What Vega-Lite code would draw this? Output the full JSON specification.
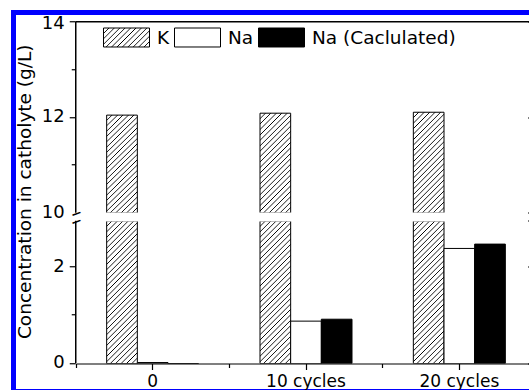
{
  "$schema": "https://vega.github.io/schema/vega-lite/v6.json",
  "autosize": {"type": "none"},
  "padding": {"left": 76, "top": 22, "right": -7, "bottom": 26.5},
  "width": 460,
  "height": 341.5,
  "background": "white",
  "data": {
    "values": [
      {"category": "0", "series": "K", "value": 12.05},
      {"category": "0", "series": "Na", "value": 0.02},
      {"category": "0", "series": "Na (Caclulated)", "value": 0},
      {"category": "10 cycles", "series": "K", "value": 12.09},
      {"category": "10 cycles", "series": "Na", "value": 0.88},
      {"category": "10 cycles", "series": "Na (Caclulated)", "value": 0.92},
      {"category": "20 cycles", "series": "K", "value": 12.11},
      {"category": "20 cycles", "series": "Na", "value": 2.39},
      {"category": "20 cycles", "series": "Na (Caclulated)", "value": 2.48}
    ]
  },
  "resolve": {"scale": {"y": "independent"}, "axis": {"x": "independent", "y": "independent"}},
  "layer": [
    {
      "transform": [{"filter": "datum.series === 'K'"}],
      "mark": {
        "type": "bar", "clip": true, "stroke": "black", "strokeWidth": 1,
        "fill": {"gradient": "linear", "x1": 0, "y1": 0, "x2": 0.3663, "y2": 1.1944, "stops": [
          {"offset": 0, "color": "#000"}, {"offset": 0.0069, "color": "#fff"}, {"offset": 0.0348, "color": "#fff"},
          {"offset": 0.0417, "color": "#000"}, {"offset": 0.0486, "color": "#fff"}, {"offset": 0.0764, "color": "#fff"},
          {"offset": 0.0833, "color": "#000"}, {"offset": 0.0902, "color": "#fff"}, {"offset": 0.1181, "color": "#fff"},
          {"offset": 0.125, "color": "#000"}, {"offset": 0.1319, "color": "#fff"}, {"offset": 0.1598, "color": "#fff"},
          {"offset": 0.1667, "color": "#000"}, {"offset": 0.1736, "color": "#fff"}, {"offset": 0.2014, "color": "#fff"},
          {"offset": 0.2083, "color": "#000"}, {"offset": 0.2152, "color": "#fff"}, {"offset": 0.2431, "color": "#fff"},
          {"offset": 0.25, "color": "#000"}, {"offset": 0.2569, "color": "#fff"}, {"offset": 0.2848, "color": "#fff"},
          {"offset": 0.2917, "color": "#000"}, {"offset": 0.2986, "color": "#fff"}, {"offset": 0.3264, "color": "#fff"},
          {"offset": 0.3333, "color": "#000"}, {"offset": 0.3402, "color": "#fff"}, {"offset": 0.3681, "color": "#fff"},
          {"offset": 0.375, "color": "#000"}, {"offset": 0.3819, "color": "#fff"}, {"offset": 0.4098, "color": "#fff"},
          {"offset": 0.4167, "color": "#000"}, {"offset": 0.4236, "color": "#fff"}, {"offset": 0.4514, "color": "#fff"},
          {"offset": 0.4583, "color": "#000"}, {"offset": 0.4652, "color": "#fff"}, {"offset": 0.4931, "color": "#fff"},
          {"offset": 0.5, "color": "#000"}, {"offset": 0.5069, "color": "#fff"}, {"offset": 0.5348, "color": "#fff"},
          {"offset": 0.5417, "color": "#000"}, {"offset": 0.5486, "color": "#fff"}, {"offset": 0.5764, "color": "#fff"},
          {"offset": 0.5833, "color": "#000"}, {"offset": 0.5902, "color": "#fff"}, {"offset": 0.6181, "color": "#fff"},
          {"offset": 0.625, "color": "#000"}, {"offset": 0.6319, "color": "#fff"}, {"offset": 0.6598, "color": "#fff"},
          {"offset": 0.6667, "color": "#000"}, {"offset": 0.6736, "color": "#fff"}, {"offset": 0.7014, "color": "#fff"},
          {"offset": 0.7083, "color": "#000"}, {"offset": 0.7152, "color": "#fff"}, {"offset": 0.7431, "color": "#fff"},
          {"offset": 0.75, "color": "#000"}, {"offset": 0.7569, "color": "#fff"}, {"offset": 0.7848, "color": "#fff"},
          {"offset": 0.7917, "color": "#000"}, {"offset": 0.7986, "color": "#fff"}, {"offset": 0.8264, "color": "#fff"},
          {"offset": 0.8333, "color": "#000"}, {"offset": 0.8402, "color": "#fff"}, {"offset": 0.8681, "color": "#fff"},
          {"offset": 0.875, "color": "#000"}, {"offset": 0.8819, "color": "#fff"}, {"offset": 0.9098, "color": "#fff"},
          {"offset": 0.9167, "color": "#000"}, {"offset": 0.9236, "color": "#fff"}, {"offset": 0.9514, "color": "#fff"},
          {"offset": 0.9583, "color": "#000"}, {"offset": 0.9652, "color": "#fff"}, {"offset": 0.9931, "color": "#fff"},
          {"offset": 1, "color": "#000"}
        ]}
      },
      "encoding": {
        "x": {
          "field": "category", "type": "nominal",
          "scale": {"domain": ["0", "10 cycles", "20 cycles"], "paddingInner": 0.4, "paddingOuter": 0.2},
          "axis": {"orient": "top", "ticks": false, "labels": false, "domain": true, "title": null, "domainColor": "#000000", "domainWidth": 1.5, "translate": -0.25, "zindex": 1}
        },
        "xOffset": {"field": "series", "type": "nominal", "scale": {"domain": ["K", "Na", "Na (Caclulated)"], "paddingInner": 0, "paddingOuter": 0}},
        "y": {
          "field": "value", "type": "quantitative", "stack": null,
          "scale": {"domain": [10, 14], "range": [191, 0], "zero": false, "nice": false},
          "axis": {
            "orient": "left", "values": [10, 11, 12, 13, 14], "translate": -0.25,
            "labelExpr": "datum.value % 2 === 0 ? datum.label : ''",
            "tickSize": {"condition": {"test": "datum.value % 2 === 0", "value": 6}, "value": 4},
            "tickOpacity": {"condition": {"test": "datum.value === 10", "value": 0}, "value": 1},
            "tickColor": "#000000", "tickWidth": 1.2,
            "labelOffset": {"condition": {"test": "datum.value === 14", "value": 2}, "value": 0},
            "labelFontSize": 18, "labelPadding": 5,
            "domain": true, "domainColor": "#000000", "domainWidth": 1.5, "zindex": 1,
            "title": "Concentration in catholyte (g/L)",
            "titleFontSize": 18.5, "titleX": -45, "titleY": 170, "titleAngle": -90,
            "titleAlign": "center", "titleBaseline": "alphabetic"
          }
        },
        "y2": {"datum": 10}
      }
    },
    {
      "transform": [{"filter": "datum.series === 'K'"}],
      "mark": {
        "type": "bar", "clip": true, "stroke": "black", "strokeWidth": 1,
        "fill": {"gradient": "linear", "x1": 0, "y1": 0, "x2": 0.25, "y2": 1.1614, "stops": [
          {"offset": 0, "color": "#000"}, {"offset": 0.0052, "color": "#fff"}, {"offset": 0.0261, "color": "#fff"},
          {"offset": 0.03125, "color": "#000"}, {"offset": 0.0365, "color": "#fff"}, {"offset": 0.0573, "color": "#fff"},
          {"offset": 0.0625, "color": "#000"}, {"offset": 0.0677, "color": "#fff"}, {"offset": 0.0886, "color": "#fff"},
          {"offset": 0.09375, "color": "#000"}, {"offset": 0.099, "color": "#fff"}, {"offset": 0.1198, "color": "#fff"},
          {"offset": 0.125, "color": "#000"}, {"offset": 0.1302, "color": "#fff"}, {"offset": 0.1511, "color": "#fff"},
          {"offset": 0.15625, "color": "#000"}, {"offset": 0.1615, "color": "#fff"}, {"offset": 0.1823, "color": "#fff"},
          {"offset": 0.1875, "color": "#000"}, {"offset": 0.1927, "color": "#fff"}, {"offset": 0.2136, "color": "#fff"},
          {"offset": 0.21875, "color": "#000"}, {"offset": 0.224, "color": "#fff"}, {"offset": 0.2448, "color": "#fff"},
          {"offset": 0.25, "color": "#000"}, {"offset": 0.2552, "color": "#fff"}, {"offset": 0.2761, "color": "#fff"},
          {"offset": 0.28125, "color": "#000"}, {"offset": 0.2865, "color": "#fff"}, {"offset": 0.3073, "color": "#fff"},
          {"offset": 0.3125, "color": "#000"}, {"offset": 0.3177, "color": "#fff"}, {"offset": 0.3386, "color": "#fff"},
          {"offset": 0.34375, "color": "#000"}, {"offset": 0.349, "color": "#fff"}, {"offset": 0.3698, "color": "#fff"},
          {"offset": 0.375, "color": "#000"}, {"offset": 0.3802, "color": "#fff"}, {"offset": 0.4011, "color": "#fff"},
          {"offset": 0.40625, "color": "#000"}, {"offset": 0.4115, "color": "#fff"}, {"offset": 0.4323, "color": "#fff"},
          {"offset": 0.4375, "color": "#000"}, {"offset": 0.4427, "color": "#fff"}, {"offset": 0.4636, "color": "#fff"},
          {"offset": 0.46875, "color": "#000"}, {"offset": 0.474, "color": "#fff"}, {"offset": 0.4948, "color": "#fff"},
          {"offset": 0.5, "color": "#000"}, {"offset": 0.5052, "color": "#fff"}, {"offset": 0.5261, "color": "#fff"},
          {"offset": 0.53125, "color": "#000"}, {"offset": 0.5365, "color": "#fff"}, {"offset": 0.5573, "color": "#fff"},
          {"offset": 0.5625, "color": "#000"}, {"offset": 0.5677, "color": "#fff"}, {"offset": 0.5886, "color": "#fff"},
          {"offset": 0.59375, "color": "#000"}, {"offset": 0.599, "color": "#fff"}, {"offset": 0.6198, "color": "#fff"},
          {"offset": 0.625, "color": "#000"}, {"offset": 0.6302, "color": "#fff"}, {"offset": 0.6511, "color": "#fff"},
          {"offset": 0.65625, "color": "#000"}, {"offset": 0.6615, "color": "#fff"}, {"offset": 0.6823, "color": "#fff"},
          {"offset": 0.6875, "color": "#000"}, {"offset": 0.6927, "color": "#fff"}, {"offset": 0.7136, "color": "#fff"},
          {"offset": 0.71875, "color": "#000"}, {"offset": 0.724, "color": "#fff"}, {"offset": 0.7448, "color": "#fff"},
          {"offset": 0.75, "color": "#000"}, {"offset": 0.7552, "color": "#fff"}, {"offset": 0.7761, "color": "#fff"},
          {"offset": 0.78125, "color": "#000"}, {"offset": 0.7865, "color": "#fff"}, {"offset": 0.8073, "color": "#fff"},
          {"offset": 0.8125, "color": "#000"}, {"offset": 0.8177, "color": "#fff"}, {"offset": 0.8386, "color": "#fff"},
          {"offset": 0.84375, "color": "#000"}, {"offset": 0.849, "color": "#fff"}, {"offset": 0.8698, "color": "#fff"},
          {"offset": 0.875, "color": "#000"}, {"offset": 0.8802, "color": "#fff"}, {"offset": 0.9011, "color": "#fff"},
          {"offset": 0.90625, "color": "#000"}, {"offset": 0.9115, "color": "#fff"}, {"offset": 0.9323, "color": "#fff"},
          {"offset": 0.9375, "color": "#000"}, {"offset": 0.9427, "color": "#fff"}, {"offset": 0.9636, "color": "#fff"},
          {"offset": 0.96875, "color": "#000"}, {"offset": 0.974, "color": "#fff"}, {"offset": 0.9948, "color": "#fff"},
          {"offset": 1, "color": "#000"}
        ]}
      },
      "encoding": {
        "x": {
          "field": "category", "type": "nominal",
          "scale": {"domain": ["0", "10 cycles", "20 cycles"], "paddingInner": 0.4, "paddingOuter": 0.2},
          "axis": {"orient": "bottom", "title": null, "tickSize": 6, "tickColor": "#000000", "tickWidth": 1.2, "labelPadding": 4, "labelFontSize": 17, "labelAngle": 0, "domain": true, "domainColor": "#000000", "domainWidth": 1.2, "zindex": 1}
        },
        "xOffset": {"field": "series", "type": "nominal", "scale": {"domain": ["K", "Na", "Na (Caclulated)"], "paddingInner": 0, "paddingOuter": 0}},
        "y": {
          "field": "value", "type": "quantitative", "stack": null,
          "scale": {"domain": [0, 2.96], "range": [341.5, 199], "clamp": true, "zero": false, "nice": false},
          "axis": {
            "orient": "left", "values": [0, 1, 2], "translate": -0.25,
            "labelExpr": "datum.value === 1 ? '' : datum.label",
            "tickSize": {"condition": {"test": "datum.value === 1", "value": 4}, "value": 6},
            "tickColor": "#000000", "tickWidth": 1.2,
            "labelFontSize": 18, "labelPadding": 5, "title": null,
            "domain": true, "domainColor": "#000000", "domainWidth": 1.5, "zindex": 1
          }
        }
      }
    },
    {
      "transform": [{"filter": "datum.series !== 'K'"}],
      "mark": {"type": "bar", "clip": true, "stroke": "black", "strokeWidth": 1},
      "encoding": {
        "x": {
          "field": "category", "type": "nominal",
          "scale": {"domain": ["0", "10 cycles", "20 cycles"], "paddingInner": 0.4, "paddingOuter": 0.2},
          "axis": null
        },
        "xOffset": {"field": "series", "type": "nominal", "scale": {"domain": ["K", "Na", "Na (Caclulated)"], "paddingInner": 0, "paddingOuter": 0}},
        "y": {
          "field": "value", "type": "quantitative", "stack": null,
          "scale": {"domain": [0, 2.96], "range": [341.5, 199], "clamp": true, "zero": false, "nice": false},
          "axis": null
        },
        "fill": {
          "field": "series", "type": "nominal",
          "scale": {
            "domain": ["K", "Na", "Na (Caclulated)"],
            "range": [
              {"expr": "{gradient:'linear',x1:0,y1:0,x2:1.2071,y2:0.4986,stops:[{offset:0,color:'#000'},{offset:0.0138,color:'#fff'},{offset:0.0695,color:'#fff'},{offset:0.0833,color:'#000'},{offset:0.0971,color:'#fff'},{offset:0.1529,color:'#fff'},{offset:0.1667,color:'#000'},{offset:0.1805,color:'#fff'},{offset:0.2362,color:'#fff'},{offset:0.25,color:'#000'},{offset:0.2638,color:'#fff'},{offset:0.3195,color:'#fff'},{offset:0.3333,color:'#000'},{offset:0.3471,color:'#fff'},{offset:0.4029,color:'#fff'},{offset:0.4167,color:'#000'},{offset:0.4305,color:'#fff'},{offset:0.4862,color:'#fff'},{offset:0.5,color:'#000'},{offset:0.5138,color:'#fff'},{offset:0.5695,color:'#fff'},{offset:0.5833,color:'#000'},{offset:0.5971,color:'#fff'},{offset:0.6529,color:'#fff'},{offset:0.6667,color:'#000'},{offset:0.6805,color:'#fff'},{offset:0.7362,color:'#fff'},{offset:0.75,color:'#000'},{offset:0.7638,color:'#fff'},{offset:0.8195,color:'#fff'},{offset:0.8333,color:'#000'},{offset:0.8471,color:'#fff'},{offset:0.9029,color:'#fff'},{offset:0.9167,color:'#000'},{offset:0.9305,color:'#fff'},{offset:0.9862,color:'#fff'},{offset:1,color:'#000'}]}"},
              "white",
              "black"
            ]
          },
          "legend": {
            "orient": "none", "legendX": 27, "legendY": -8, "direction": "horizontal", "columns": 3,
            "title": null, "symbolType": "M-1,-0.413H1V0.413H-1Z", "symbolSize": 2116,
            "symbolStrokeColor": "black", "symbolStrokeWidth": 1, "symbolOpacity": 1,
            "labelFont": "DejaVu Sans", "labelFontSize": 18.5, "labelColor": "black",
            "labelOffset": 7, "columnPadding": 2, "padding": 0, "labelLimit": 400
          }
        }
      }
    },
    {
      "transform": [{"filter": "datum.series === 'K'"}],
      "mark": {"type": "point", "opacity": 0},
      "encoding": {
        "y": {
          "field": "value", "type": "quantitative",
          "scale": {"domain": [10, 14], "range": [191, 0], "zero": false, "nice": false},
          "axis": {"orient": "right", "values": [10, 12, 14], "tickSize": -8, "tickColor": "#000000", "tickWidth": 1.2, "translate": 0, "labels": false, "title": null, "domainColor": "#000000", "zindex": 1}
        }
      }
    },
    {
      "transform": [{"filter": "datum.series === 'K'"}],
      "mark": {"type": "point", "opacity": 0},
      "encoding": {
        "y": {
          "field": "value", "type": "quantitative",
          "scale": {"domain": [0, 2.96], "range": [341.5, 199], "clamp": true, "zero": false, "nice": false},
          "axis": {"orient": "right", "values": [0, 2, 2.96], "tickSize": -8, "tickColor": "#000000", "tickWidth": 1.2, "translate": 0, "labels": false, "title": null, "domainColor": "#000000", "zindex": 1}
        }
      }
    },
    {
      "transform": [{"filter": "datum.series === 'K' && datum.category === '0'"}],
      "mark": {"type": "rect", "fill": "white"},
      "encoding": {
        "y": {"datum": 10.01, "type": "quantitative", "scale": {"domain": [10, 14], "range": [191, 0], "zero": false, "nice": false}, "axis": null},
        "y2": {"datum": 9.82}
      }
    },
    {
      "transform": [{"filter": "datum.series === 'K'"}],
      "mark": {"type": "point", "opacity": 0},
      "encoding": {
        "y": {
          "field": "value", "type": "quantitative",
          "scale": {"domain": [10, 14], "range": [191, 0], "zero": false, "nice": false},
          "axis": {
            "orient": "left", "values": [10], "ticks": false, "tickSize": 0, "domain": false,
            "labelExpr": "'–'", "labelFontSize": 21, "labelAngle": -20, "labelAlign": "center",
            "labelBaseline": "middle", "labelPadding": 0, "title": null, "zindex": 2
          }
        }
      }
    },
    {
      "transform": [{"filter": "datum.series === 'K'"}],
      "mark": {"type": "point", "opacity": 0},
      "encoding": {
        "y": {
          "field": "value", "type": "quantitative",
          "scale": {"domain": [0, 2.96], "range": [341.5, 199], "clamp": true, "zero": false, "nice": false},
          "axis": {
            "orient": "left", "values": [2.96], "ticks": false, "tickSize": 0, "domain": false,
            "labelExpr": "'–'", "labelFontSize": 21, "labelAngle": -20, "labelAlign": "center",
            "labelBaseline": "middle", "labelPadding": 0, "title": null, "zindex": 2
          }
        }
      }
    },
    {
      "mark": {"type": "rule", "opacity": 0},
      "encoding": {
        "x": {
          "field": "category", "type": "nominal",
          "scale": {"domain": ["0", "10 cycles", "20 cycles"], "paddingInner": 0.4, "paddingOuter": 0.2},
          "axis": {"orient": "bottom", "bandPosition": -0.3333, "values": ["0", "10 cycles", "20 cycles"], "tickSize": 4, "tickColor": "#000000", "tickWidth": 1.2, "labels": false, "domain": false, "title": null, "zindex": 1}
        }
      }
    },
    {
      "transform": [{"filter": "datum.series === 'K'"}],
      "mark": {"type": "point", "opacity": 0},
      "encoding": {
        "stroke": {
          "field": "value", "type": "quantitative",
          "scale": {"range": ["transparent", "transparent"]},
          "legend": {
            "orient": "none", "legendX": -62.5, "legendY": -9.5, "direction": "horizontal",
            "gradientLength": 531, "gradientThickness": 379,
            "gradientStrokeColor": "#0000ff", "gradientStrokeWidth": 5,
            "title": null, "labelExpr": "''", "padding": 0, "offset": 0
          }
        }
      }
    }
  ],
  "config": {
    "view": {"stroke": null},
    "axis": {
      "grid": false, "labelFont": "DejaVu Sans", "labelColor": "black", "tickColor": "black",
      "domainColor": "black", "titleFont": "DejaVu Sans", "titleColor": "black",
      "titleFontWeight": "normal", "domainWidth": 1, "tickWidth": 1
    },
    "legend": {"labelFont": "DejaVu Sans"}
  }
}
